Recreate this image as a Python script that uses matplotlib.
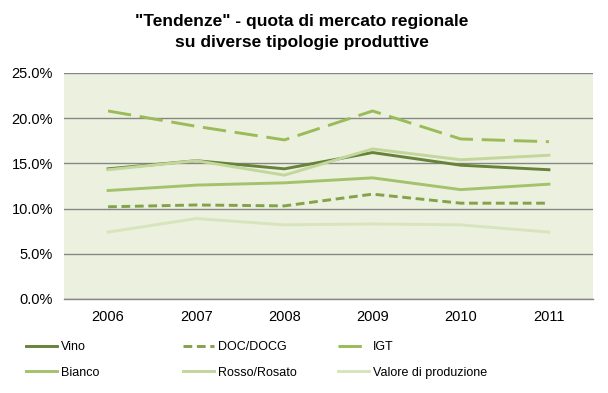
import matplotlib
matplotlib.use("Agg")
import matplotlib.pyplot as plt
from matplotlib.ticker import FuncFormatter

years = ["2006", "2007", "2008", "2009", "2010", "2011"]
vino = [14.4, 15.3, 14.4, 16.2, 14.8, 14.3]
doc_docg = [10.2, 10.4, 10.3, 11.6, 10.6, 10.6]
igt = [20.8, 19.1, 17.6, 20.8, 17.7, 17.4]
bianco = [12.0, 12.6, 12.85, 13.4, 12.1, 12.7]
rosso = [14.3, 15.3, 13.7, 16.6, 15.4, 15.9]
valore = [7.4, 8.9, 8.2, 8.3, 8.2, 7.4]

labels = ["Vino", "DOC/DOCG", "IGT", "Bianco", "Rosso/Rosato", "Valore di produzione"]
title = '"Tendenze" - quota di mercato regionale\nsu diverse tipologie produttive'

fig = plt.figure(figsize=(6.08, 3.93), dpi=100)
ax = fig.add_axes([64/608, 1-299/393, (593-64)/608, (299-73)/393])
ax.set_facecolor("#EBF1DE")

x = list(range(len(years)))
lw = 2.1
h_vino, = ax.plot(x, vino, color="#67823A", lw=lw)
h_doc, = ax.plot(x, doc_docg, color="#84A24A", lw=lw, dashes=(3, 1.6), dash_capstyle="butt")
h_igt, = ax.plot(x, igt, color="#9BBB59", lw=lw, dashes=(8, 3), dash_capstyle="butt")
h_bianco, = ax.plot(x, bianco, color="#A4C26C", lw=lw)
h_rosso, = ax.plot(x, rosso, color="#C3D69B", lw=lw)
h_valore, = ax.plot(x, valore, color="#D7E4BD", lw=lw)

ax.set_xlim(-0.5, 5.5)
ax.set_ylim(0, 25)
ax.set_yticks([0, 5, 10, 15, 20, 25])
ax.yaxis.set_major_formatter(FuncFormatter(lambda v, p: f"{v:.1f}%"))
ax.set_xticks(x)
ax.set_xticklabels(years)
ax.grid(axis="y", color="#868686", lw=1.0)
ax.set_axisbelow(True)
for s in ["top", "left", "right"]:
    ax.spines[s].set_visible(False)
ax.spines["bottom"].set_color("#868686")
ax.spines["bottom"].set_linewidth(1.0)
ax.tick_params(axis="both", length=0, labelsize=10.5, colors="black", pad=8)
for t in ax.get_xticklabels() + ax.get_yticklabels():
    t.set_fontfamily("Liberation Sans")

fig.text(0.497, 1 - 32/393, title, ha="center", va="center", fontsize=12.5,
         fontweight="bold", family="Liberation Sans", linespacing=1.5)

cols = [([h_vino, h_bianco], [labels[0], labels[3]], 26),
        ([h_doc, h_rosso], [labels[1], labels[4]], 183),
        ([h_igt, h_valore], [labels[2], labels[5]], 338)]
for hs, ls, xpx in cols:
    leg = fig.legend(hs, ls, loc="center left",
                     bbox_to_anchor=(xpx/608, 1 - 360/393), frameon=False,
                     prop={"family": "Liberation Sans", "size": 9},
                     handlelength=2.5, handletextpad=0.3,
                     labelspacing=1.07, borderpad=0, borderaxespad=0)

fig.savefig("out.png", dpi=100)
